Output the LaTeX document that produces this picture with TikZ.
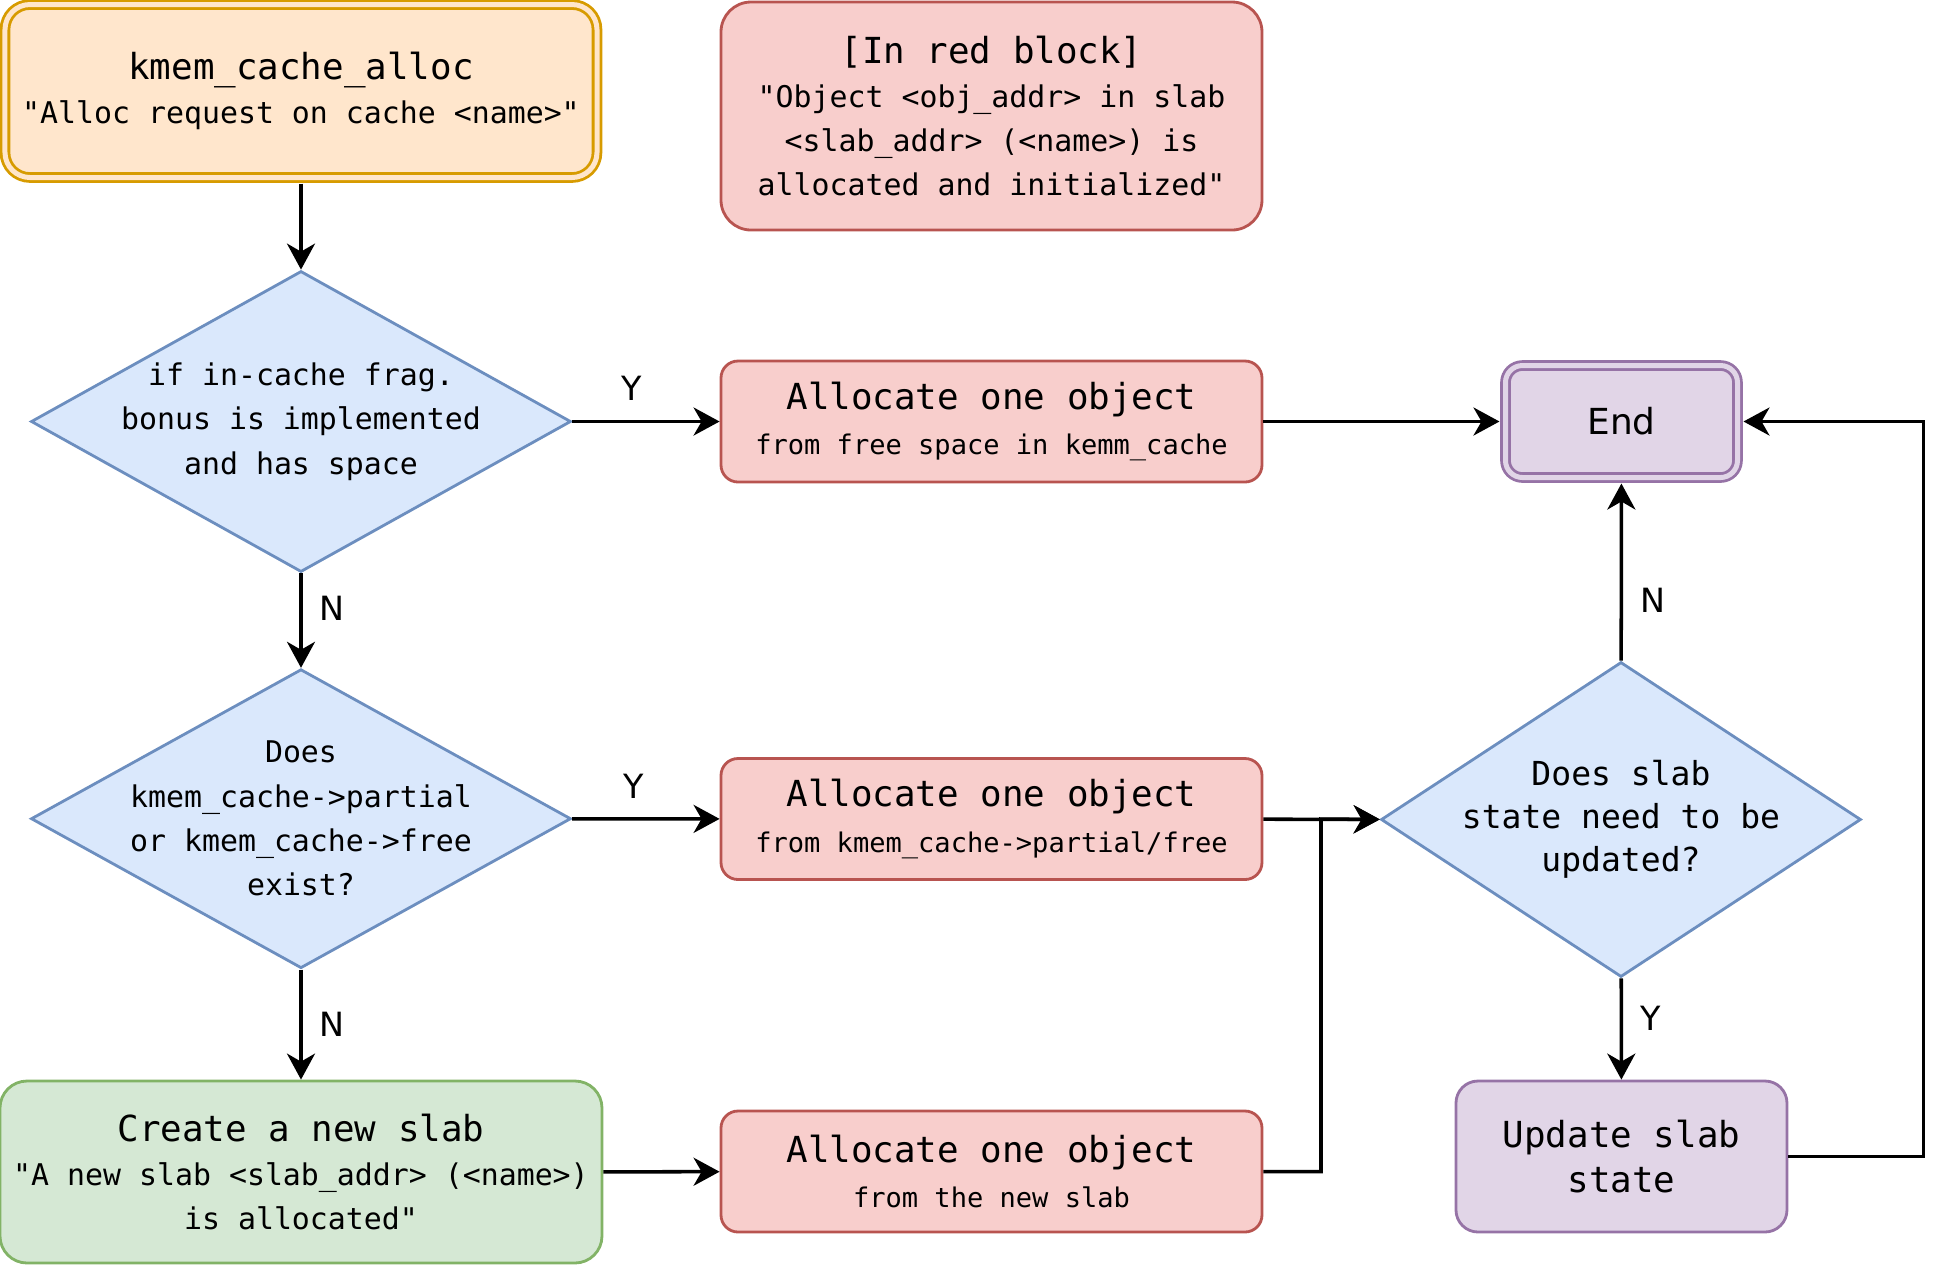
\documentclass[tikz,border=0pt]{standalone}
\usepackage{fontspec}
\setmonofont{DejaVu Sans Mono}
\setsansfont{DejaVu Sans}
\usetikzlibrary{arrows.meta,positioning,shapes.geometric}
\definecolor{orfill}{HTML}{FFE6CC}\definecolor{orline}{HTML}{D79B00}
\definecolor{redfill}{HTML}{F8CECC}\definecolor{redline}{HTML}{B85450}
\definecolor{bluefill}{HTML}{DAE8FC}\definecolor{blueline}{HTML}{6C8EBF}
\definecolor{grfill}{HTML}{D5E8D4}\definecolor{grline}{HTML}{82B366}
\definecolor{pufill}{HTML}{E1D5E7}\definecolor{puline}{HTML}{9673A6}
\newcommand{\hdfont}{\fontsize{10.2}{12.6}\selectfont}
\newcommand{\txfont}{\fontsize{8.5}{12.6}\selectfont}
\newcommand{\smfont}{\fontsize{7.7}{13}\selectfont}
\newcommand{\qfont}{\fontsize{9.4}{12.2}\selectfont}

\begin{document}
\begin{tikzpicture}[>={Stealth[length=0.26cm,width=0.28cm,inset=0.08cm]},line width=0.8pt,
  box/.style={draw,rounded corners=0.17cm,minimum width=5.41cm,minimum height=1.21cm,align=center,font=\ttfamily\txfont,inner sep=0pt},
  redbox/.style={box,draw=redline,fill=redfill,font=\ttfamily\smfont},
  twobox/.style={double distance=0.05cm,outer sep=0.06cm},
  dec/.style={diamond,draw=blueline,fill=bluefill,align=center,inner sep=-0.6cm,font=\ttfamily\txfont},
  link/.style={->,line width=1pt},
  lbl/.style={font=\sffamily\fontsize{9.5}{11}\selectfont,inner sep=0pt}]
\useasboundingbox (0,0) rectangle (19.47,-12.66);
% left column
\node[box,twobox,draw=orline,fill=orfill,double=orfill,rounded corners=0.25cm,minimum width=5.92cm,minimum height=1.73cm] (start) at (3.01,-0.91)
  {\hdfont kmem\_cache\_alloc\\"Alloc request on cache <name>"};
\node[dec,minimum width=5.40cm,minimum height=3.01cm] (frag) at (3.01,-4.215)
  {if in-cache frag.\\bonus is implemented\\and has space};
\node[dec,minimum width=5.40cm,minimum height=2.99cm] (partial) at (3.01,-8.187)
  {Does\\kmem\_cache->partial\\or kmem\_cache->free\\exist?};
\node[box,draw=grline,fill=grfill,rounded corners=0.27cm,minimum width=6.02cm,minimum height=1.82cm] (newslab) at (3.01,-11.72)
  {\hdfont Create a new slab\\"A new slab <slab\_addr> (<name>)\\is allocated"};
% middle column
\node[box,draw=redline,fill=redfill,rounded corners=0.3cm,minimum height=2.28cm] (note) at (9.915,-1.16)
  {\hdfont [In red block]\\"Object <obj\_addr> in slab\\<slab\_addr> (<name>) is\\allocated and initialized"};
\node[redbox] (grab) at (9.915,-4.215) {\hdfont Allocate one object\\from free space in kemm\_cache};
\node[redbox] (take) at (9.915,-8.19) {\hdfont Allocate one object\\from kmem\_cache->partial/free};
\node[redbox] (fresh) at (9.915,-11.715) {\hdfont Allocate one object\\from the new slab};
% right column
\node[box,twobox,draw=puline,fill=pufill,double=pufill,minimum width=2.32cm,minimum height=1.12cm,font=\sffamily\hdfont] (finish) at (16.215,-4.215) {End};
\node[dec,font=\ttfamily\qfont,minimum width=4.80cm,minimum height=3.15cm] (state) at (16.21,-8.195)
  {Does slab\\state need to be\\updated?};
\node[box,draw=puline,fill=pufill,rounded corners=0.22cm,minimum width=3.31cm,minimum height=1.51cm,font=\ttfamily\hdfont] (upd) at (16.215,-11.565)
  {Update slab\\state};
\coordinate (join) at (13.21,-8.19);
% connectors
\draw[link] (start) -- (frag);
\draw[link] (frag) -- (partial) node[lbl,pos=0.37,right=0.17cm] (n1) {N};
\draw[link] (partial) -- (newslab) node[lbl,midway,right=0.17cm] (n2) {N};
\draw[link] (frag) -- (grab) node[lbl,pos=0.4,above=0.19cm] (y1) {Y};
\draw[link] (partial) -- (take) node[lbl,pos=0.42,above=0.19cm] (y2) {Y};
\draw[link] (newslab) -- (fresh);
\draw[link] (grab) -- (finish);
\draw[link] (take) -- (state);
\draw[link] (fresh.east) -| (join) -- (state.west);
\draw[link] (state) -- (finish) node[lbl,pos=0.34,right=0.17cm] (n3) {N};
\draw[link] (state) -- (upd) node[lbl,pos=0.4,right=0.17cm] (y3) {Y};
\draw[link] (upd.east) -- ++(1.35,0) |- (finish.east);
\end{tikzpicture}
\end{document}
